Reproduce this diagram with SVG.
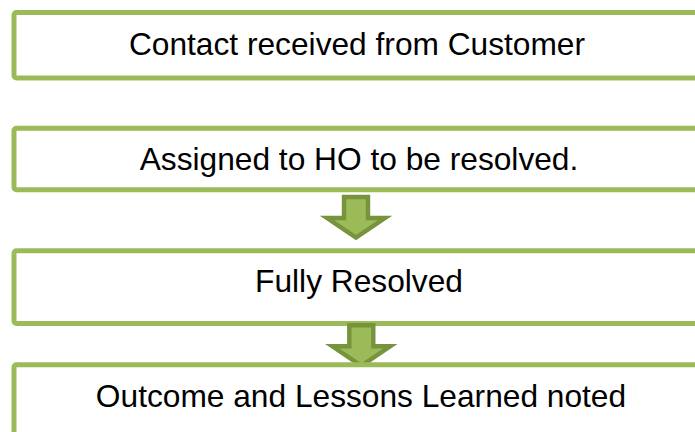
<svg xmlns="http://www.w3.org/2000/svg" width="695" height="432" viewBox="0 0 695 432">
  <defs>
    <style>
      .box { fill: #FFFFFF; stroke: #9BBB59; stroke-width: 5; }
      .lbl { font-family: "Liberation Sans", Arial, sans-serif; font-size: 31.7px; fill: #000000; text-anchor: middle; }
      .arrow { fill: #9BBB59; stroke: #77933C; stroke-width: 4.4; stroke-linejoin: miter; }
    </style>
    <path id="downArrow" d="M0,0 H24 V21 H41 L12,40.5 L-17,21 H0 Z"/>
  </defs>
  <rect width="695" height="432" fill="#FFFFFF"/>
  <g id="node1">
    <rect class="box" x="14" y="12.5" width="700" height="65.5" rx="2.5"/>
    <text class="lbl" x="357" y="55">Contact received from Customer</text>
  </g>
  <g id="node2">
    <rect class="box" x="14" y="128.2" width="700" height="61.6" rx="2.5"/>
    <text class="lbl" x="359" y="170">Assigned to HO to be resolved.</text>
  </g>
  <g id="node3">
    <rect class="box" x="14" y="250.8" width="700" height="72.7" rx="2.5"/>
    <text class="lbl" x="359" y="292">Fully Resolved</text>
  </g>
  <g id="connectors">
    <use href="#downArrow" class="arrow" x="344" y="197"/>
    <use href="#downArrow" class="arrow" x="349.3" y="325.3"/>
  </g>
  <g id="node4">
    <rect class="box" x="14" y="364.8" width="700" height="90" rx="2.5"/>
    <text class="lbl" x="361" y="406.5">Outcome and Lessons Learned noted</text>
  </g>
</svg>
